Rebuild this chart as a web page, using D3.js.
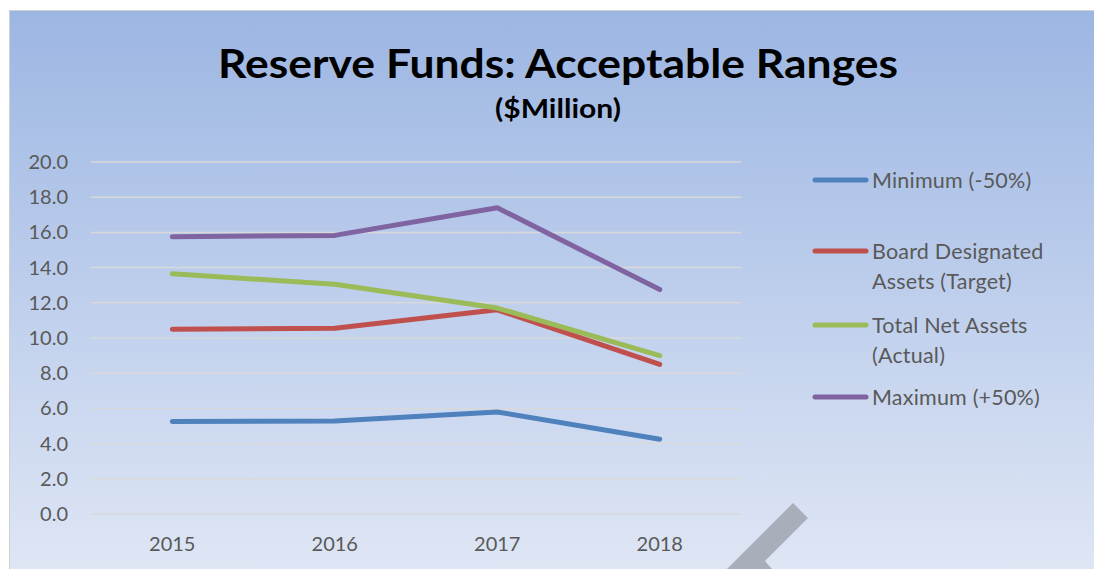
<!DOCTYPE html>
<html>
<head>
<meta charset="utf-8">
<script src="https://cdn.jsdelivr.net/npm/d3@7"></script>
<style>
  body { margin: 0; background: #fff; }
  svg { display: block; }
</style>
</head>
<body>
<svg id="chart" width="1094" height="569"></svg>
<script>
// data ($Million)
var years = ["2015", "2016", "2017", "2018"];
var minimum = [5.25, 5.28, 5.8, 4.25];
var target = [10.5, 10.55, 11.6, 8.5];
var actual = [13.65, 13.05, 11.7, 9.0];
var maximum = [15.75, 15.83, 17.4, 12.75];
var yTicks = [0, 2, 4, 6, 8, 10, 12, 14, 16, 18, 20];

var series = [
    { name: ["Minimum (-50%)"], values: minimum, color: "#4f81bd" },
    { name: ["Board Designated", "Assets (Target)"], values: target, color: "#c0504d" },
    { name: ["Total Net Assets", "(Actual)"], values: actual, color: "#9bbb59" },
    { name: ["Maximum (+50%)"], values: maximum, color: "#8064a2" }
];

var svg = d3.select("#chart");
var font = "Lato, 'Open Sans', sans-serif";

// background
var defs = svg.append("defs");
var grad = defs.append("linearGradient").attr("id", "bg")
    .attr("x1", 0).attr("y1", 0).attr("x2", 0).attr("y2", 1);
grad.append("stop").attr("offset", "0%").attr("stop-color", "#9cb6e3");
grad.append("stop").attr("offset", "100%").attr("stop-color", "#e0e7f5");

svg.append("rect")
    .attr("x", 9.5).attr("y", 10.5)
    .attr("width", 1094).attr("height", 569)
    .attr("fill", "url(#bg)")
    .attr("stroke", "#d0d0d0");

// titles
svg.append("text")
    .attr("x", 558).attr("y", 78)
    .attr("text-anchor", "middle")
    .attr("font-family", font).attr("font-weight", "bold")
    .attr("font-size", 40)
    .attr("textLength", 680).attr("lengthAdjust", "spacingAndGlyphs")
    .attr("fill", "#000")
    .text("Reserve Funds: Acceptable Ranges");

svg.append("text")
    .attr("x", 558).attr("y", 118)
    .attr("text-anchor", "middle")
    .attr("font-family", font).attr("font-weight", "bold")
    .attr("font-size", 26)
    .attr("textLength", 126).attr("lengthAdjust", "spacingAndGlyphs")
    .attr("fill", "#000")
    .text("($Million)");

// scales
var x = d3.scaleBand().domain(years).range([91, 741]);
var y = d3.scaleLinear().domain([0, 20]).range([514, 162]);

// gridlines
svg.append("g").selectAll("line").data(yTicks).enter().append("line")
    .attr("x1", 91).attr("x2", 741)
    .attr("y1", function (d) { return y(d); })
    .attr("y2", function (d) { return y(d); })
    .attr("stroke", "#d9d9d9").attr("stroke-width", 1.5);

// y axis labels
var yAxis = d3.axisLeft(y).tickValues(yTicks).tickSize(0).tickPadding(0)
    .tickFormat(d3.format(".1f"));
var gy = svg.append("g").attr("transform", "translate(68,0)").call(yAxis);
gy.select(".domain").remove();
gy.selectAll("text")
    .attr("font-family", font).attr("font-size", 20)
    .attr("fill", "#595959");

// x axis labels
var xAxis = d3.axisBottom(x).tickSize(0).tickPadding(0);
var gx = svg.append("g").attr("transform", "translate(0,537)").call(xAxis);
gx.select(".domain").remove();
gx.selectAll("text")
    .attr("font-family", font).attr("font-size", 20)
    .attr("fill", "#595959");

// lines
var line = d3.line()
    .x(function (d, i) { return x(years[i]) + x.bandwidth() / 2; })
    .y(function (d) { return y(d); });

svg.append("g").selectAll("path").data(series).enter().append("path")
    .attr("d", function (s) { return line(s.values); })
    .attr("fill", "none")
    .attr("stroke", function (s) { return s.color; })
    .attr("stroke-width", 5)
    .attr("stroke-linecap", "round")
    .attr("stroke-linejoin", "round");

// legend
var legendY = [180, 251, 325, 397];
var legend = svg.append("g").selectAll("g").data(series).enter().append("g")
    .attr("transform", function (d, i) { return "translate(0," + legendY[i] + ")"; });
legend.append("line")
    .attr("x1", 815).attr("x2", 866)
    .attr("stroke", function (s) { return s.color; })
    .attr("stroke-width", 5)
    .attr("stroke-linecap", "round");
legend.each(function (s) {
    var t = d3.select(this).append("text")
        .attr("font-family", font).attr("font-size", 21.5)
        .attr("letter-spacing", 0.2)
        .attr("fill", "#595959");
    s.name.forEach(function (n, k) {
        t.append("tspan").attr("x", 872).attr("y", 8 + k * 30).text(n);
    });
});

// gray arrow decoration at the bottom
svg.append("polygon")
    .attr("points", "793,503 808,518 765,561 772,569 727,569")
    .attr("fill", "#a9afba");
</script>
</body>
</html>
